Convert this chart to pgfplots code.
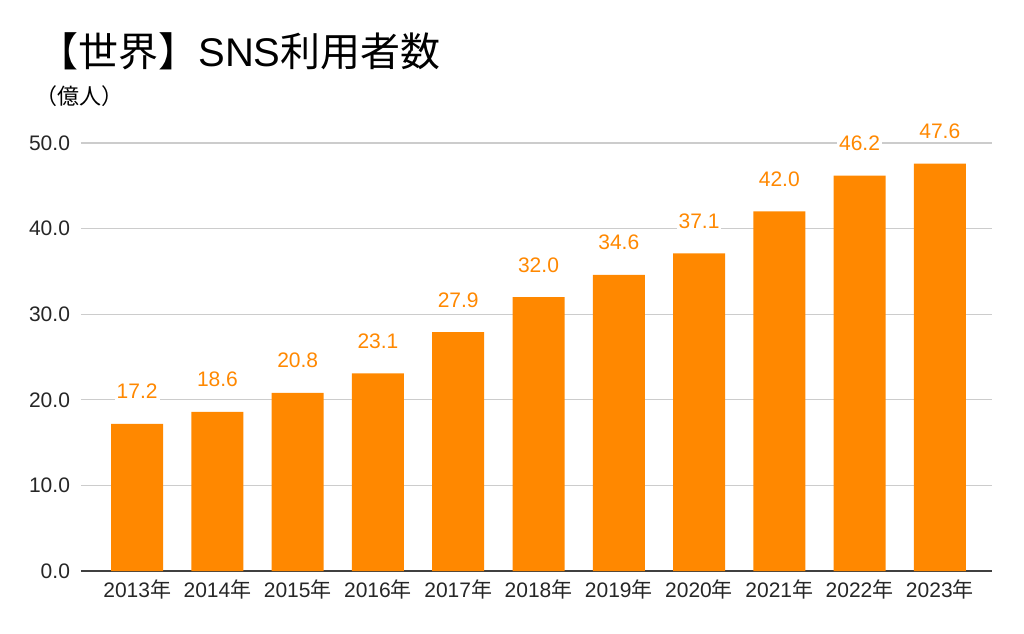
\documentclass[border=0pt]{standalone}
\usepackage{fontspec}
\setmainfont{Liberation Sans}
\newfontfamily\cjk{Noto Sans CJK JP}
\usepackage{pgfplots}
\pgfplotsset{compat=1.18}
\definecolor{barorange}{HTML}{FF8800}
\definecolor{gridgray}{HTML}{CCCCCC}

\begin{document}
\begin{tikzpicture}
  \useasboundingbox (-40.5pt,-31pt) rectangle (471.5pt,285.5pt);
  \begin{axis}[
      at={(0,0)}, anchor=south west,
      scale only axis,
      width=455.5pt, height=214pt,
      ybar, bar width=26pt,
      xmin=-0.70, xmax=10.65,
      ymin=0, ymax=50,
      ytick={0,10,20,30,40,50},
      xtick=data,
      xticklabels={2013{\cjk 年},2014{\cjk 年},2015{\cjk 年},2016{\cjk 年},2017{\cjk 年},2018{\cjk 年},2019{\cjk 年},2020{\cjk 年},2021{\cjk 年},2022{\cjk 年},2023{\cjk 年}},
      axis x line*=bottom, axis y line*=left,
      x axis line style={draw=black!75, line width=0.6pt, -},
      y axis line style={draw=none},
      major tick length=0pt,
      ymajorgrids, grid style={gridgray, line width=0.6pt},
      clip=false,
      /pgf/number format/.cd, fixed, fixed zerofill, precision=1, assume math mode=true,
      /pgfplots/.cd,
      ticklabel style={font=\fontsize{10.5}{12}\selectfont, text=black!85},
      yticklabel style={anchor=east, xshift=-2pt},
      xticklabel style={anchor=base, yshift=-13pt},
      yticklabel={\pgfmathprintnumber{\tick}},
      nodes near coords,
      every node near coord/.append style={font=\fontsize{10.5}{12}\selectfont, text=barorange, anchor=base, yshift=12.5pt, fill=white, inner sep=1pt},
    ]
    \addplot[fill=barorange, draw=none] coordinates {
      (0,17.2) (1,18.6) (2,20.8) (3,23.1) (4,27.9) (5,32.0)
      (6,34.6) (7,37.1) (8,42.0) (9,46.2) (10,47.6)
    };
  \end{axis}
  \node[anchor=base west, inner sep=0pt, font=\fontsize{20}{22}\selectfont] at (-21.5pt,252pt) {{\cjk 【世界】}SNS{\cjk 利用者数}};
  \node[anchor=base west, inner sep=0pt, font=\fontsize{11}{13}\selectfont\cjk] at (-23pt,233pt) {（億人）};
\end{tikzpicture}
\end{document}
